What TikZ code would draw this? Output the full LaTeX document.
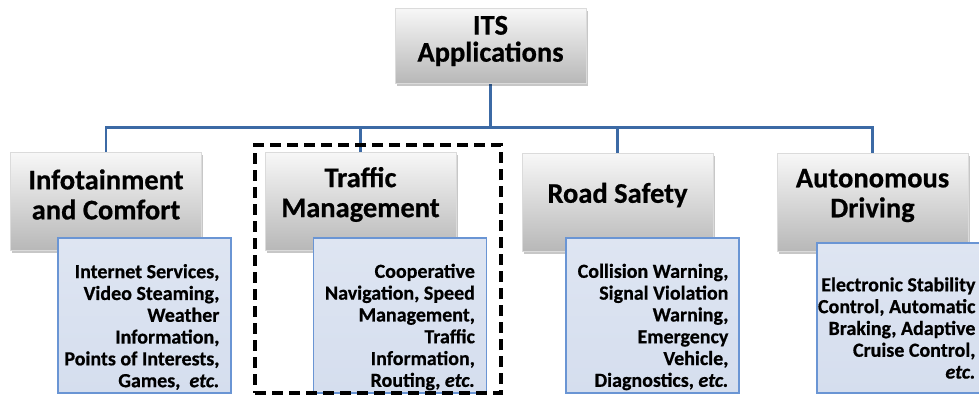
\documentclass[tikz,border=0pt]{standalone}
\usepackage{fontspec}
\setmainfont{Carlito}[BoldFeatures={FakeBold=0.6},BoldItalicFeatures={FakeBold=0.6}]
\usetikzlibrary{shadows,calc}
\pgfdeclarelayer{background}
\pgfsetlayers{background,main}
\definecolor{linkblue}{HTML}{3C6AA5}
\definecolor{boxblue}{HTML}{D5DEEE}
\definecolor{boxblueTop}{HTML}{DEE5F2}
\definecolor{boxedge}{HTML}{6A95D4}
\begin{document}
\begin{tikzpicture}[x=1pt,y=-1pt,
  link/.style={draw=linkblue, line width=2.4pt},
  graybox/.style={draw=black!14, line width=0.6pt, top color=black!3, middle color=black!11, bottom color=black!28,
    minimum width=191pt, minimum height=98pt, inner sep=0pt,
    drop shadow={shadow xshift=1.5pt, shadow yshift=-2.5pt, opacity=0.22, fill=black}},
  bluebox/.style={draw=boxedge, line width=1.2pt, top color=boxblueTop, bottom color=boxblue,
    minimum width=173pt, minimum height=155pt, inner sep=0pt},
  titletext/.style={font=\fontsize{28.5}{30}\selectfont\bfseries, align=center, inner sep=0pt, text=black},
  itemtext/.style={font=\fontsize{20}{21.8}\selectfont\bfseries, align=right, inner sep=0pt, anchor=east, text=black},
  focusbox/.style={draw=black, line width=3.2pt, dash pattern=on 11pt off 6pt, minimum width=246pt, minimum height=248pt, inner sep=0pt}
]
\useasboundingbox (0,0) rectangle (979,397);
\clip (0,0) rectangle (979,397);

% category boxes
\node[graybox, minimum height=75pt] (its) at (490.5,45.5) {};
\node[graybox] (info) at (106,201.5) {};
\node[graybox] (traffic) at (360.5,201.5) {};
\node[graybox] (road) at (617.5,202.5) {};
\node[graybox] (auto) at (872.5,202.5) {};

% connectors (behind the boxes)
\path (its.south) ++(0,44) coordinate (hub);
\begin{pgfonlayer}{background}
\draw[link] (its.south) -- (hub);
\draw[link] (info.north) |- (hub) -| (auto.north);
\draw[link] (traffic.north) -- (traffic.north |- hub);
\draw[link] (road.north) -- (road.north |- hub);
\end{pgfonlayer}

\node[titletext, font=\fontsize{28.5}{27}\selectfont\bfseries] (itsT) at (490.5,41) {ITS\\Applications};
\node[titletext] (infoT) at (106,194.5) {Infotainment\\and Comfort};
\node[titletext] (trafficT) at (360.5,194.5) {Traffic\\Management};
\node[titletext] (roadT) at (617.5,195) {Road Safety};
\node[titletext] (autoT) at (872.5,195.5) {Autonomous\\Driving};

% detail boxes
\node[bluebox] (infoB) at (144.5,315.5) {};
\node[bluebox] (trafficB) at (400,315.5) {};
\node[bluebox] (roadB) at (652.5,315.5) {};
\node[bluebox, minimum height=150pt] (autoB) at (903.5,318) {};

\node[itemtext] (infoL) at ($(infoB.east)+(-12,11.5)$) {Internet Services,\\Video Steaming,\\Weather\\Information,\\Points of Interests,\\Games,~ \textit{etc.}};
\node[itemtext] (trafficL) at ($(trafficB.east)+(-12,11.5)$) {Cooperative\\Navigation, Speed\\Management,\\Traffic\\Information,\\Routing, \textit{etc.}};
\node[itemtext] (roadL) at ($(roadB.east)+(-11,11.5)$) {Collision Warning,\\Signal Violation\\Warning,\\Emergency\\Vehicle,\\Diagnostics, \textit{etc.}};
\node[itemtext] (autoL) at ($(autoB.east)+(-15,10)$) {Electronic Stability\\Control, Automatic\\Braking, Adaptive\\Cruise Control,\\\textit{etc.}};

\node[focusbox] (focus) at (378,269) {};
\end{tikzpicture}
\end{document}
